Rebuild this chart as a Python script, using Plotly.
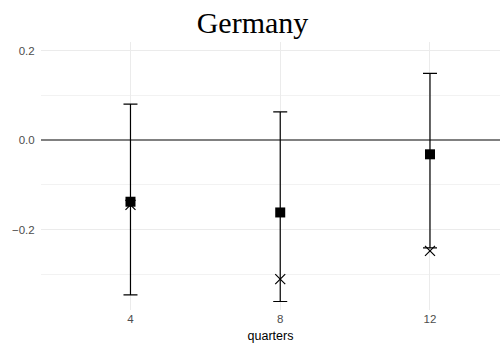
import plotly.graph_objects as go

# Impulse response estimates for Germany by forecast horizon
quarters = [4, 8, 12]
estimate = [-0.138, -0.162, -0.032]
ci_upper = [0.080, 0.063, 0.149]
ci_lower = [-0.346, -0.361, -0.241]
alternative = [-0.145, -0.311, -0.248]

err_plus = [u - e for u, e in zip(ci_upper, estimate)]
err_minus = [e - l for e, l in zip(estimate, ci_lower)]

fig = go.Figure()

fig.add_trace(go.Scatter(
    x=quarters, y=alternative, mode="markers",
    marker=dict(symbol="x-thin-open", size=10, color="black",
                line=dict(color="black", width=1.2)),
    showlegend=False,
))

fig.add_trace(go.Scatter(
    x=quarters, y=estimate, mode="markers",
    marker=dict(symbol="square", size=10, color="black"),
    error_y=dict(type="data", symmetric=False, array=err_plus,
                 arrayminus=err_minus, color="black", thickness=1.2, width=7),
    showlegend=False,
))

grid = "#EBEBEB"
tickfont = dict(family="Liberation Sans, Arial, sans-serif", size=11.5, color="#4D4D4D")

fig.update_layout(
    width=500, height=343,
    margin=dict(l=41, r=0, t=42, b=33),
    paper_bgcolor="white", plot_bgcolor="white",
    title=dict(text="Germany", x=0.505, xanchor="center", y=0.935, yanchor="middle",
               font=dict(family="Liberation Serif, Times New Roman, serif", size=30, color="black")),
    xaxis=dict(
        range=[1.61, 13.87], tickvals=quarters, ticktext=[str(q) for q in quarters],
        showgrid=True, gridcolor=grid, gridwidth=1, zeroline=False, showline=False,
        ticks="", tickfont=tickfont,
        title=dict(text="quarters", standoff=9,
                   font=dict(family="Liberation Sans, Arial, sans-serif", size=12.5, color="black")),
    ),
    yaxis=dict(
        range=[-0.38, 0.219], tickvals=[-0.2, 0.0, 0.2], ticktext=["\u22120.2", "0.0", "0.2"],
        showgrid=True, gridcolor=grid, gridwidth=1,
        minor=dict(tickvals=[-0.3, -0.1, 0.1], showgrid=True, gridcolor="#F2F2F2", gridwidth=1),
        zeroline=True, zerolinecolor="#808080", zerolinewidth=1.8, showline=False,
        ticks="outside", ticklen=3, tickcolor="rgba(0,0,0,0)", tickfont=tickfont,
    ),
)

fig.write_html("out.html")
